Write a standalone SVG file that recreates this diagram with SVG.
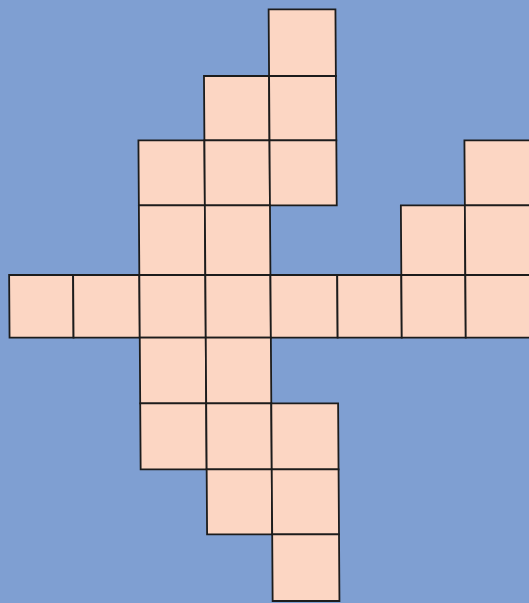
<svg xmlns="http://www.w3.org/2000/svg" width="529" height="603" viewBox="0 0 529 603">
<style>
.c{fill:#FCD6C3;stroke:#1c1c1c;stroke-width:1.8}
</style>
<rect x="0" y="0" width="529" height="603" fill="#7F9FD2"/>
<g id="grid" transform="translate(-2.04,0) skewX(0.39)">
<g id="r0"><rect class="c" x="270.6" y="9.3" width="66.8" height="66.7"/></g>
<g id="r1">
<rect class="c" x="205.5" y="76" width="65.1" height="64.3"/>
<rect class="c" x="270.6" y="76" width="66.8" height="64.3"/>
</g>
<g id="r2">
<rect class="c" x="139.5" y="140.3" width="66" height="65"/>
<rect class="c" x="205.5" y="140.3" width="65.1" height="65"/>
<rect class="c" x="270.6" y="140.3" width="66.8" height="65"/>
<rect class="c" x="465.5" y="140.3" width="70" height="65"/>
</g>
<g id="r3">
<rect class="c" x="139.5" y="205.3" width="66" height="69.7"/>
<rect class="c" x="205.5" y="205.3" width="65.1" height="69.7"/>
<rect class="c" x="401.5" y="205.3" width="64" height="69.7"/>
<rect class="c" x="465.5" y="205.3" width="70" height="69.7"/>
</g>
<g id="r4">
<rect class="c" x="9.3" y="275" width="64" height="62.7"/>
<rect class="c" x="73.3" y="275" width="66.2" height="62.7"/>
<rect class="c" x="139.5" y="275" width="66" height="62.7"/>
<rect class="c" x="205.5" y="275" width="65.1" height="62.7"/>
<rect class="c" x="270.6" y="275" width="66.8" height="62.7"/>
<rect class="c" x="337.4" y="275" width="64.1" height="62.7"/>
<rect class="c" x="401.5" y="275" width="64" height="62.7"/>
<rect class="c" x="465.5" y="275" width="70" height="62.7"/>
</g>
<g id="r5">
<rect class="c" x="139.5" y="337.7" width="66" height="65.6"/>
<rect class="c" x="205.5" y="337.7" width="65.1" height="65.6"/>
</g>
<g id="r6">
<rect class="c" x="139.5" y="403.3" width="66" height="66"/>
<rect class="c" x="205.5" y="403.3" width="65.1" height="66"/>
<rect class="c" x="270.6" y="403.3" width="66.8" height="66"/>
</g>
<g id="r7">
<rect class="c" x="205.5" y="469.3" width="65.1" height="65"/>
<rect class="c" x="270.6" y="469.3" width="66.8" height="65"/>
</g>
<g id="r8"><rect class="c" x="270.6" y="534.3" width="66.8" height="66.7"/></g>
</g>
</svg>
